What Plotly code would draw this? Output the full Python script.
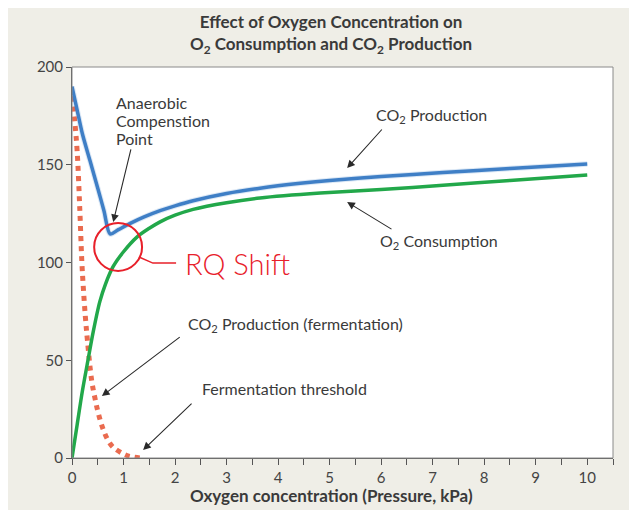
import plotly.graph_objects as go

# ---- data ----
co2_x = [0, 0.1, 0.2, 0.35, 0.5, 0.62, 0.74, 0.9, 1.13, 1.4, 1.71, 2.0, 2.35, 3.0, 3.65, 4.43, 5.0, 6.0, 7.2, 8.5, 10]
co2_y = [190, 178, 166, 152, 138, 126.5, 114.6, 116.8, 120, 123.3, 126.5, 129, 131.6, 135.3, 138, 140.5, 142, 144, 146, 148.1, 150.4]

o2_x = [0, 0.1, 0.2, 0.31, 0.4, 0.54, 0.65, 0.8, 1.0, 1.26, 1.5, 1.71, 2.0, 2.35, 3.0, 3.65, 4.82, 6.0, 7.2, 8.5, 10]
o2_y = [0, 17, 34, 50, 63, 80, 89, 98, 105.5, 113, 117.5, 120.8, 124.2, 127.2, 130.6, 133, 135.5, 137.3, 139.5, 142, 144.8]

ferm_x = [0, 0.05, 0.1, 0.15, 0.19, 0.22, 0.26, 0.3, 0.38, 0.45, 0.51, 0.6, 0.7, 0.8, 0.97, 1.1, 1.32]
ferm_y = [185, 173, 157, 128, 101, 87, 72, 60, 40, 30, 23, 15, 9, 5.5, 2.5, 1, 0]

x_ticks = [0, 1, 2, 3, 4, 5, 6, 7, 8, 9, 10]
y_ticks = [0, 50, 100, 150, 200]

FONT = "Lato"
TXT = "#3a3a3a"
BEIGE = "#efeee7"

fig = go.Figure()
fig.add_trace(go.Scatter(x=ferm_x, y=ferm_y, mode="lines", line=dict(color="#ea6b4f", width=5, dash="dot", shape="spline"), showlegend=False))
fig.add_trace(go.Scatter(x=o2_x, y=o2_y, mode="lines", line=dict(color="#22a84a", width=3.5, shape="spline", smoothing=0.8), showlegend=False))
fig.add_trace(go.Scatter(x=co2_x, y=co2_y, mode="lines", line=dict(color="rgba(63,127,198,0.18)", width=5.5, shape="spline", smoothing=0.8), showlegend=False))
fig.add_trace(go.Scatter(x=co2_x, y=co2_y, mode="lines", line=dict(color="#3f7fc6", width=3.5, shape="spline", smoothing=0.8), showlegend=False))

def arrow(tx, ty, hx, hy):
    fig.add_annotation(x=hx, y=hy, ax=tx, ay=ty, axref="x", ayref="y", xref="x", yref="y",
                       text="", showarrow=True, arrowhead=2, arrowsize=1.4, arrowwidth=1.1, arrowcolor="#2a2a2a")

def label(x, y, text):
    fig.add_annotation(x=x, y=y, xref="x", yref="y", text=text, showarrow=False, xanchor="left",
                       yanchor="middle", align="left", font=dict(family=FONT, size=16, color=TXT))

label(0.82, 181.6, "Anaerobic")
label(0.82, 172.4, "Compenstion")
label(0.82, 163.2, "Point")
arrow(1.15, 158.6, 0.80, 120.7)
label(5.87, 175.4, "CO<sub>2</sub> Production")
arrow(6.04, 168.8, 5.34, 148.3)
label(5.94, 110.5, "O<sub>2</sub> Consumption")
arrow(6.23, 116.6, 5.34, 130.9)
label(2.21, 68.5, "CO<sub>2</sub> Production (fermentation)")
arrow(2.12, 62.4, 0.58, 31.7)
label(2.49, 35.3, "Fermentation threshold")
arrow(2.35, 28.6, 1.38, 4.1)

# RQ shift callout
fig.add_shape(type="circle", xref="x", yref="y", x0=0.43, x1=1.36, y0=95.7, y1=120.2,
              line=dict(color="#e8202a", width=2))
fig.add_shape(type="path", xref="x", yref="y", path="M 1.30 102.8 L 1.57 99.7 L 2.02 99.7",
              line=dict(color="#e8202a", width=1.5))
fig.add_annotation(x=2.15, y=99.7, xref="x", yref="y", text="RQ Shift", showarrow=False, xanchor="left",
                   yanchor="middle", font=dict(family=FONT, size=29, color="#e8202a", weight=300))

# axis title
fig.add_annotation(x=(331.5 - 72) / 541, y=(458 - 496) / 391, xref="paper", yref="paper",
                   text="<b>Oxygen concentration (Pressure, kPa)</b>", showarrow=False,
                   xanchor="center", yanchor="middle", font=dict(family=FONT, size=17, color=TXT))

# plot border
fig.add_shape(type="rect", xref="paper", yref="paper", x0=0, x1=1, y0=0, y1=1,
              line=dict(color="#8a8a8a", width=1))

fig.update_layout(
    title=dict(text="<b>Effect of Oxygen Concentration on<br>O<sub>2</sub> Consumption and CO<sub>2</sub> Production</b>",
               x=323 / 637, xref="container", xanchor="center", y=1 - 20 / 510, yref="container", yanchor="middle",
               font=dict(family=FONT, size=17, color=TXT)),
    width=637, height=510,
    margin=dict(l=64, r=32, t=59, b=60),
    paper_bgcolor=BEIGE, plot_bgcolor="white",
    showlegend=False,
    xaxis=dict(range=[0, 10.5], tickvals=x_ticks, ticks="outside", ticklen=6, tickcolor="#555",
               showline=True, linecolor="#555", linewidth=1, showgrid=False, zeroline=False,
               tickfont=dict(family=FONT, size=15, color="#444"),
               minor=dict(dtick=0.5, ticks="outside", ticklen=6, tickcolor="#555")),
    yaxis=dict(range=[0, 200], tickvals=y_ticks, ticks="outside", ticklen=5, tickcolor="#555",
               showline=True, linecolor="#555", linewidth=1, showgrid=False, zeroline=False,
               tickfont=dict(family=FONT, size=15, color="#444")),
)

fig.write_html("out.html")
